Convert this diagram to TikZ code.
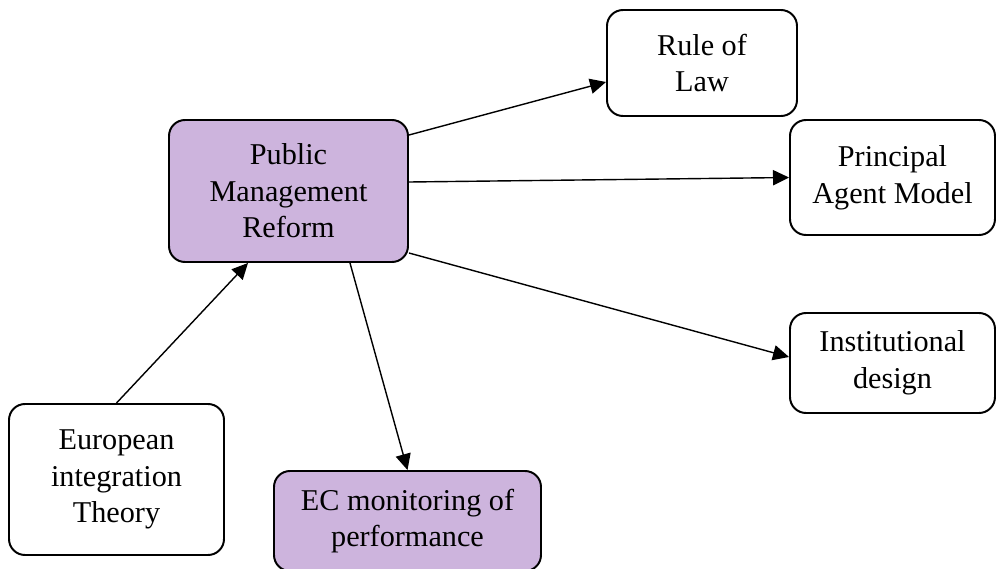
\documentclass[tikz,border=0pt]{standalone}
\usepackage{fontspec}
\setmainfont{Liberation Serif}
\usepackage{tikz}
\usetikzlibrary{positioning, arrows.meta, calc}
\definecolor{accentpurple}{RGB}{205,180,221}

\begin{document}
\begin{tikzpicture}[->, >={Triangle[length=0.4cm, width=0.38cm]}, line width=1pt,
        concept/.style={draw, line width=1.4pt, rounded corners=0.4cm, align=center,
          inner sep=0pt, font=\fontsize{21.5}{26}\selectfont},
        focus/.style={concept, fill=accentpurple}]
      \useasboundingbox (0,0) rectangle (24.9,-14.225);
      \node[focus, minimum width=5.975cm, minimum height=3.55cm] (pmr) at (7.2125,-4.775) {Public\\Management\\Reform};
      \node[concept, minimum width=4.75cm, minimum height=2.65cm] (rol) at (17.55,-1.575) {Rule of\\Law};
      \node[concept, minimum width=5.125cm, minimum height=2.875cm] (pam) at (22.3125,-4.4375) {Principal\\Agent Model};
      \node[concept, minimum width=5.125cm, minimum height=2.5cm] (ind) at (22.3125,-9.075) {Institutional\\design};
      \node[concept, minimum width=5.375cm, minimum height=3.775cm] (eit) at (2.9125,-11.9875) {European\\integration\\Theory};
      \node[focus, minimum width=6.675cm, minimum height=2.5cm] (ecm) at (10.1875,-13.025) {EC monitoring of\\performance};
      \path ([yshift=1.4cm]pmr.east) edge ([yshift=-0.475cm]rol.west)
            ([yshift=0.225cm]pmr.east) edge (pam.west)
            ([yshift=-1.55cm]pmr.east) edge ([yshift=0.15cm]ind.west)
            ([xshift=1.5375cm]pmr.south) edge (ecm.north)
            (eit.north) edge ([xshift=-1.0125cm]pmr.south);
    \end{tikzpicture}
\end{document}
